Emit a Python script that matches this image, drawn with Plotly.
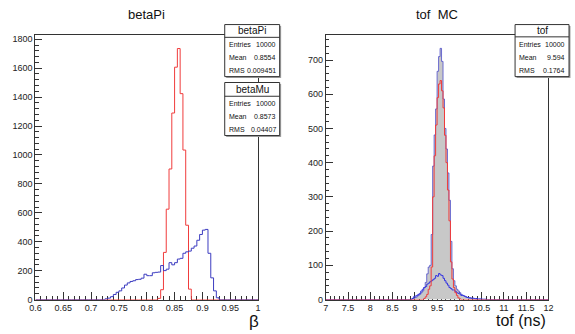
import plotly.graph_objects as go

W, H = 575, 334
def px(x): return x / W
def py(y): return 1 - y / H

# ---------------- data: left panel (beta) ----------------
beta_lo, beta_hi, beta_nbins = 0.6, 1.0, 80
beta_pi_start = 44
beta_pi_counts = [8, 68, 326, 625, 903, 1290, 1607, 1736, 1424, 1034, 514, 72]
beta_mu_start = 25
beta_mu_counts = [5, 10, 20, 35, 50, 60, 80, 100, 115, 125, 130, 138, 140, 148,
                  175, 165, 165, 185, 188, 190, 235, 200, 210, 255, 240, 255,
                  280, 285, 320, 330, 335, 355, 370, 410, 450, 480, 485, 320,
                  150, 60, 12]

# ---------------- data: right panel (tof) ----------------
tof_lo, tof_hi, tof_nbins = 7.0, 12.0, 150
tof_all_start = 58
tof_all_counts = [2, 4, 6, 8, 12, 15, 20, 25, 35, 50, 75, 95, 100, 190, 390, 481,
                  557, 667, 710, 734, 696, 586, 500, 440, 370, 290, 170, 90, 55,
                  40, 30, 25, 20, 15, 12, 10, 8, 6, 5, 4, 3, 2, 2]
tof_pi_start = 66
tof_pi_counts = [3, 8, 15, 30, 40, 95, 300, 420, 510, 590, 630, 640, 610, 560,
                 480, 400, 320, 230, 110, 60, 35, 20, 12, 5, 2]
tof_mu_start = 58
tof_mu_counts = [3, 8, 10, 12, 15, 18, 25, 30, 35, 38, 45, 48, 52, 55, 58, 62,
                 70, 68, 76, 72, 70, 62, 55, 48, 42, 35, 32, 28, 28, 24, 20, 18,
                 16, 12, 12, 10, 8, 6, 5, 5, 4, 4, 3, 3, 2, 2, 2, 1, 1, 1]

stats = {
    "betaPi": [("Entries", "10000"), ("Mean", "0.8554"), ("RMS", "0.009451")],
    "betaMu": [("Entries", "10000"), ("Mean", "0.8573"), ("RMS", "0.04407")],
    "tof": [("Entries", "10000"), ("Mean", "9.594"), ("RMS", "0.1764")],
}

RED = "#f03c3c"
BLUE = "#3c3cc0"
FONT = "Liberation Sans, Arial, sans-serif"


def full(start, vals, n):
    return [0] * start + list(vals) + [0] * (n - start - len(vals))


def step(lo, hi, n, counts):
    w = (hi - lo) / n
    edges = [lo + i * w for i in range(n + 1)]
    return edges, list(counts) + [counts[-1]]


fig = go.Figure()

# left
ex, ey = step(beta_lo, beta_hi, beta_nbins, full(beta_pi_start, beta_pi_counts, beta_nbins))
fig.add_trace(go.Scatter(x=ex, y=ey, mode="lines", line=dict(color=RED, width=1, shape="hv"),
                         xaxis="x", yaxis="y", showlegend=False, hoverinfo="skip"))
ex, ey = step(beta_lo, beta_hi, beta_nbins, full(beta_mu_start, beta_mu_counts, beta_nbins))
fig.add_trace(go.Scatter(x=ex, y=ey, mode="lines", line=dict(color=BLUE, width=1, shape="hv"),
                         xaxis="x", yaxis="y", showlegend=False, hoverinfo="skip"))

# right
ex, ey = step(tof_lo, tof_hi, tof_nbins, full(tof_all_start, tof_all_counts, tof_nbins))
fig.add_trace(go.Scatter(x=ex, y=ey, mode="lines", fill="tozeroy", fillcolor="#c8c8c8",
                         line=dict(color="rgba(70,70,200,0.75)", width=1, shape="hv"),
                         xaxis="x2", yaxis="y2", showlegend=False, hoverinfo="skip"))
ex, ey = step(tof_lo, tof_hi, tof_nbins, full(tof_mu_start, tof_mu_counts, tof_nbins))
fig.add_trace(go.Scatter(x=ex, y=ey, mode="lines", line=dict(color="#3535e0", width=1, shape="hv"),
                         xaxis="x2", yaxis="y2", showlegend=False, hoverinfo="skip"))
ex, ey = step(tof_lo, tof_hi, tof_nbins, full(tof_pi_start, tof_pi_counts, tof_nbins))
fig.add_trace(go.Scatter(x=ex, y=ey, mode="lines", line=dict(color=RED, width=1, shape="hv"),
                         xaxis="x2", yaxis="y2", showlegend=False, hoverinfo="skip"))

axis_common = dict(showgrid=False, zeroline=False, showline=True, linecolor="#333",
                   linewidth=1, mirror=True, ticks="inside", tickcolor="#333",
                   layer="below traces",
                   tickfont=dict(family=FONT, size=9, color="#222"))

fig.update_layout(
    width=W, height=H, margin=dict(l=0, r=0, t=0, b=0),
    paper_bgcolor="white", plot_bgcolor="white",
    xaxis=dict(domain=[px(30), px(257)], range=[0.6, 1.0], tick0=0.6, dtick=0.05, ticklen=8,
               minor=dict(ticks="inside", ticklen=4, dtick=0.01, tick0=0.6, tickcolor="#333"),
               anchor="y", **axis_common),
    yaxis=dict(domain=[py(304), py(35)], range=[0, 1827], tick0=0, dtick=200, ticklen=7,
               minor=dict(ticks="inside", ticklen=3.5, dtick=40, tick0=0, tickcolor="#333"),
               anchor="x", **axis_common),
    xaxis2=dict(domain=[px(326), px(553)], range=[7, 12], tick0=7, dtick=0.5, ticklen=8,
                minor=dict(ticks="inside", ticklen=4, dtick=0.1, tick0=7, tickcolor="#333"),
                anchor="y2", **axis_common),
    yaxis2=dict(domain=[py(304), py(35)], range=[0, 772], tick0=0, dtick=100, ticklen=7,
                minor=dict(ticks="inside", ticklen=3.5, dtick=20, tick0=0, tickcolor="#333"),
                anchor="x2", **axis_common),
)

shapes = []
annots = []

def text(x, y, s, size, xanchor="center"):
    annots.append(dict(x=px(x), y=py(y), xref="paper", yref="paper", text=s, showarrow=False,
                       xanchor=xanchor, yanchor="middle",
                       font=dict(family=FONT, size=size, color="#111")))

def statbox(name, x0, x1, y0, y1, ysep, rows_y, title_y):
    shapes.append(dict(type="rect", xref="paper", yref="paper", x0=px(x0 + 1.5), x1=px(x1 + 1.5),
                       y0=py(y1 + 1.5), y1=py(y0 + 1.5), fillcolor="#a0a0a0",
                       line=dict(width=0), layer="above"))
    shapes.append(dict(type="rect", xref="paper", yref="paper", x0=px(x0), x1=px(x1),
                       y0=py(y1), y1=py(y0), fillcolor="white",
                       line=dict(color="#333", width=1), layer="above"))
    shapes.append(dict(type="line", xref="paper", yref="paper", x0=px(x0), x1=px(x1),
                       y0=py(ysep), y1=py(ysep), line=dict(color="#333", width=1), layer="above"))
    text((x0 + x1) / 2, title_y, name, 10)
    for (lab, val), yy in zip(stats[name], rows_y):
        text(x0 + 2, yy, lab, 7, "left")
        text(x1 - 2, yy, val, 7, "right")

statbox("betaPi", 223, 279, 24, 77, 37, [44.3, 57.7, 71], 30.5)
statbox("betaMu", 223, 279, 83, 137, 97, [104.3, 117.7, 130.7], 90)
statbox("tof", 519, 574, 24, 77, 36.5, [44, 57.3, 70.7], 30)

text(143, 13.5, "betaPi", 13)
text(439, 13.5, "tof  MC", 13)
text(253, 326, "β", 17)
text(553, 325.5, "tof (ns)", 16, "right")

fig.update_layout(shapes=shapes, annotations=annots)
fig.write_html("out.html", config={"displayModeBar": False},
               post_script="document.body.style.margin='0';document.body.style.overflow='hidden';")
